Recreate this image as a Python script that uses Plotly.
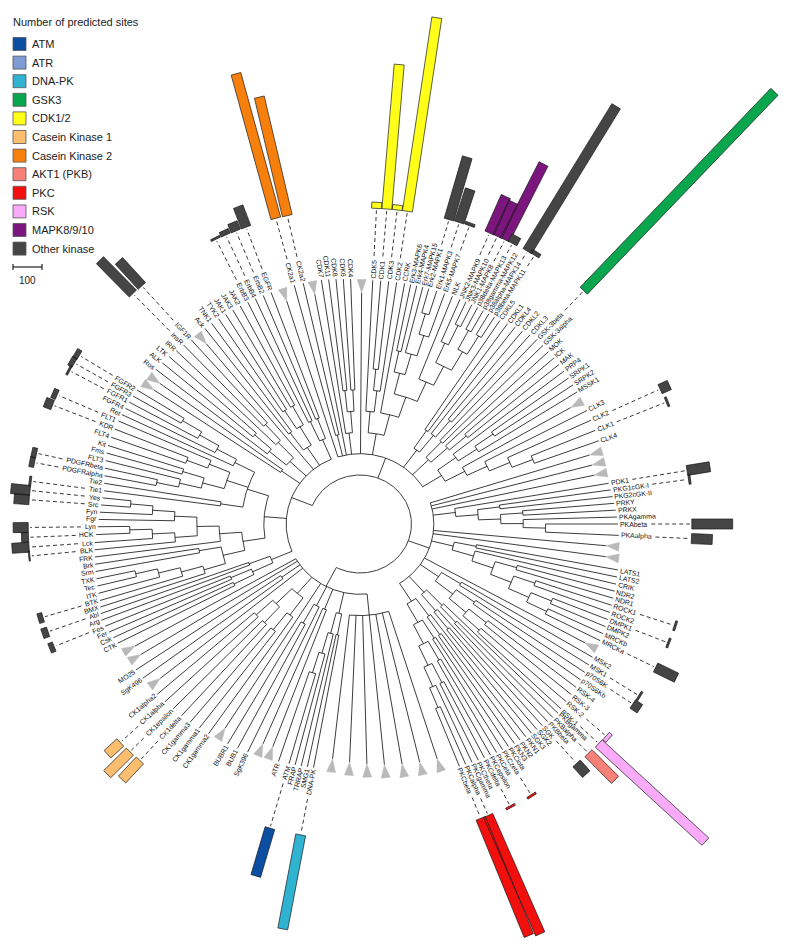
import math
import plotly.graph_objects as go

# ---------------- data ----------------
# Kinase tree (nested lists, clockwise leaf order). "^" = collapsed clade (grey triangle)
TK = [
    [[["CTK", "Csk"], ["Fer", "Fes"]], ["Arg", "Abl"]],
    [
        [[["BMX", ["BTK", ["ITK", ["Tec", "TXK"]]]], ["Srm", "Brk"]],
         ["FRK", [["BLK", ["Lck", ["HCK", "Lyn"]]], ["Fgr", ["Fyn", ["Src", "Yes"]]]]]],
        [["Tie1", "Tie2"],
         [[[["PDGFRalpha", "PDGFRbeta"], "FLT3"], ["Fms", "Kit"]], [["FLT4", "KDR"], "FLT1"]],
         ["Ret", ["FGFR4", ["FGFR1", ["FGFR3", "FGFR2"]]]]],
    ],
    ["^", "^"],
    [["Ros", ["ALK", "LTK"]], ["IRR", ["InsR", "IGF1R"]]],
    "^",
    [["Ack", "TNK1"], [["TYK2", "JAK1"], ["JAK3", "JAK2"]]],
    [["ErbB3", "ErbB4"], ["ErbB2", "EGFR"]],
]
CMGC = [
    "^", ["CK2a1", "CK2a2"], "^",
    ["CDK7", [["CDK11", "CDK8"], ["CDK6", "CDK4"]]],
    "^",
    [["CDK5", [["CDK1", "CDK3"], "CDK2"]],
     ["CCRK", [[["Erk3-MAPK6", "Erk4-MAPK4"], ["Erk7-MAPK15", [["Erk2-MAPK1", "Erk1-MAPK3"], "Erk5-MAPK7"]]],
               ["NLK", [["JNK2-MAPK9", ["JNK3-MAPK10", "JNK1-MAPK8"]],
                        [["p38delta-MAPK13", "p38gamma-MAPK12"], ["p38alpha-MAPK14", "p38beta-MAPK11"]]]]]]],
    [["CDKL5", "CDKL1"], ["CDKL4", ["CDKL2", "CDKL3"]]],
    [["GSK-3beta", "GSK-3alpha"], ["MOK", ["ICK", "MAK"]]],
    [["PRP4", [["SRPK1", "SRPK2"], "MSSK1"]], ["^", ["CLK3", ["CLK2", ["CLK1", "CLK4"]]]]],
]
AGC = [
    "^", "^", "^",
    ["PDK1", [["PKG1cGK-I", "PKG2cGK-II"], [["PRKY", "PRKX"], ["PKAgamma", ["PKAbeta", "PKAalpha"]]]]],
    "^", "^",
    [["LATS1", "LATS2"], ["CRIK", [["NDR2", "NDR1"], [["ROCK1", "ROCK2"], [["DMPK1", "DMPK2"], ["MRCKb", "MRCKa"]]]]]],
    "^",
    [["MSK2", "MSK1"], [["p70S6K", "p70S6Kb"], [["RSK-4", "RSK-3"], ["RSK-2", "RSK-1"]]]],
    [["PKBgamma", ["PKBalpha", "PKBbeta"]], ["SGK", ["SGK2", "SGK3"]]],
    [["PKN1", ["PKN2", "PKN3"]],
     [["PKCiota", "PKCzeta"], [["PKCeta", "PKCepsilon"], [["PKCdelta", "PKCtheta"], ["PKCgamma", ["PKCalpha", "PKCbeta"]]]]]],
]
OTHER = [
    ["^", "^", "^", "^", "^", "^", "^"],
    [["DNA-PK", "SMG1"], ["TRRAP", ["FRAP", ["ATM", "ATR"]]]],
    ["^", "^"],
    ["SgK396", ["BUB1", "BUBR1"]],
    "^",
    [["CK1gamma2", ["CK1gamma1", "CK1gamma3"]], [["CK1delta", "CK1epsilon"], ["CK1alpha", "CK1alpha2"]]],
    "^",
    ["SgK496", "MO25"],
    "^", "^",
]
TREE = [TK, CMGC, AGC, OTHER]

BAR_KINASES = ["InsR", "IGF1R", "ErbB3", "ErbB4", "ErbB2", "EGFR", "CK2a1", "CK2a2",
               "CDK5", "CDK1", "CDK3", "CDK2", "Erk2-MAPK1", "Erk1-MAPK3", "Erk5-MAPK7",
               "JNK2-MAPK9", "JNK3-MAPK10", "JNK1-MAPK8", "p38delta-MAPK13", "p38alpha-MAPK14",
               "p38beta-MAPK11", "GSK-3beta", "CLK2", "CLK1", "PDK1", "PKG1cGK-I", "PKAbeta",
               "PKAalpha", "ROCK1", "DMPK1", "MRCKa", "MSK1", "p70S6K", "RSK-2", "RSK-1",
               "PKBalpha", "SGK", "PKCdelta", "PKCzeta", "PKCalpha", "PKCbeta",
               "DNA-PK", "ATM", "CK1delta", "CK1epsilon", "CK1alpha",
               "FGFR2", "FGFR3", "FGFR1", "FLT1", "KDR", "PDGFRbeta", "PDGFRalpha",
               "Tie1", "Yes", "Src", "Lyn", "HCK", "Lck", "BLK", "BTK", "Abl", "Fes"]
BAR_SITES = [162, 117, 7, 17, 31, 76, 517, 420,
             21, 500, 17, 675, 224, 120, 10,
             138, 130, 293, 28, 586,
             14, 950, 35, 7, 80, 7, 141,
             72, 7, 7, 80, 7, 30, 14, 500,
             130, 50, 7, 7, 446, 437,
             330, 172, 90, 110, 60,
             17, 17, 7, 17, 28, 17, 17,
             7, 66, 52, 52, 24, 59, 4, 17, 21, 17]
BAR_GROUPS = ["Other kinase"] * 6 + ["Casein Kinase 2"] * 2 + ["CDK1/2"] * 4 + ["Other kinase"] * 3 + \
             ["MAPK8/9/10"] * 3 + ["Other kinase"] * 3 + ["GSK3"] + ["Other kinase"] * 11 + \
             ["RSK", "RSK", "AKT1 (PKB)", "Other kinase", "PKC", "PKC", "PKC", "PKC",
              "DNA-PK", "ATM", "Casein Kinase 1", "Casein Kinase 1", "Casein Kinase 1"] + \
             ["Other kinase"] * 17

LEGEND_LABELS = ["ATM", "ATR", "DNA-PK", "GSK3", "CDK1/2", "Casein Kinase 1", "Casein Kinase 2",
                 "AKT1 (PKB)", "PKC", "RSK", "MAPK8/9/10", "Other kinase"]
LEGEND_COLORS = ["#0b4ea2", "#7f9bd3", "#2fb3d1", "#0aa64e", "#ffff1a", "#fbbd6e", "#f7800c",
                 "#f98078", "#f2100f", "#f9aaf9", "#7c167f", "#454545"]
LEGEND_TITLE = "Number of predicted sites"
SCALE_SITES = 100

# ---------------- layout (page pixel coordinates) ----------------
PAGE_OFF = 8                      # default body margin of the html page
W, H = 788, 952
CX, CY = 360, 524
SX = 1.05                         # horizontal stretch of the circular layout
R_ROOT = 49
R_BAR = 316
PX_PER_SITE = 29 / 100
BAR_W = 10
FS = 6.9
TRI_LEN, TRI_W = 13, 9
COLOR = dict(zip(LEGEND_LABELS, LEGEND_COLORS))
# angular anchors of some leaves as seen on the page (deg, clockwise from +x, y down)
ANG_ANCHORS = [("CTK", 153.8), ("Arg", 159.6), ("BTK", 163.6), ("Lck", 176), ("Lyn", 179.4),
               ("Tie1", 187.4), ("Kit", 197.3), ("FLT1", 203.1), ("FGFR2", 211), ("IGF1R", 227.5),
               ("Ack", 231.6), ("EGFR", 249), ("CK2a1", 254.6), ("CDK7", 261), ("CDK4", 267.8),
               ("CDK5", 273), ("CCRK", 280.5), ("Erk2-MAPK1", 286.3), ("JNK2-MAPK9", 294),
               ("CDKL5", 304.5), ("GSK-3beta", 313.8), ("MSSK1", 328.7), ("CLK2", 335.8),
               ("PDK1", 350.7), ("PRKX", 356.9), ("PKAbeta", 0), ("LATS1", 10.1), ("ROCK1", 17.9),
               ("MRCKa", 25.9), ("MSK2", 29.8), ("RSK-1", 42.6), ("PKBgamma", 43.7),
               ("PKCbeta", 67.7), ("DNA-PK", 100.8), ("ATM", 106.5)]
# leaf tip distances from the centre as seen on the page (phylogram branch lengths)
TIP_ANCHORS = [("CTK", 270), ("Arg", 276), ("BTK", 271), ("Lck", 266), ("Lyn", 262), ("Tie1", 258),
               ("Kit", 264), ("FGFR2", 260), ("IGF1R", 250), ("EGFR", 248), ("CDK7", 247),
               ("CDK5", 244), ("CDKL5", 247), ("GSK-3beta", 256), ("PDK1", 252), ("PKAalpha", 259),
               ("LATS1", 262), ("MSK2", 268), ("RSK-1", 273), ("PKBgamma", 274), ("PKCbeta", 262),
               ("DNA-PK", 248), ("ATM", 250), ("CK1delta", 262)]

CW = {}
for c in "abdeghnopqu0123456789":
    CW[c] = 556
for c in "ckvsxyz":
    CW[c] = 500
CW.update({"f": 278, "t": 278, "i": 222, "j": 222, "l": 222, "r": 333, "m": 833, "w": 722,
           "I": 278, "J": 500, "L": 556, "M": 833, "W": 944, "-": 333, " ": 278, "(": 333,
           ")": 333, "/": 278})
for c in "ABEKPSVXY":
    CW[c] = 667
for c in "CDHNRU":
    CW[c] = 722
for c in "FTZ":
    CW[c] = 611
for c in "GOQ":
    CW[c] = 778


def text_w(s, fs):
    return sum(CW.get(c, 556) for c in s) / 1000.0 * fs


def pt(r, a):
    t = math.radians(a)
    return CX + SX * r * math.cos(t), CY + r * math.sin(t)


def unit(a):
    t = math.radians(a)
    ux, uy = SX * math.cos(t), math.sin(t)
    s = math.hypot(ux, uy)
    return ux / s, uy / s, s


def from_page_angle(ap):
    t = math.radians(ap)
    return math.degrees(math.atan2(SX * math.sin(t), math.cos(t)))


leaves = []


def collect(node):
    if isinstance(node, str):
        leaves.append(node)
        return
    for c in node:
        collect(c)


collect(TREE)
N = len(leaves)


def interp_cyclic(pairs, unwrap):
    idx = sorted((leaves.index(n), v) for n, v in pairs)
    if unwrap:
        out = [(idx[0][0], idx[0][1] % 360)]
        for i, v in idx[1:]:
            v = v % 360
            while v <= out[-1][1]:
                v += 360
            out.append((i, v))
        idx = out
        closing = (idx[0][0] + N, idx[0][1] + 360)
    else:
        closing = (idx[0][0] + N, idx[0][1])
    ext = idx + [closing]
    vals = [0.0] * N
    for k in range(len(ext) - 1):
        i0, v0 = ext[k]
        i1, v1 = ext[k + 1]
        for i in range(i0, i1):
            vals[i % N] = v0 + (v1 - v0) * (i - i0) / (i1 - i0)
    return vals


ANG = interp_cyclic([(n, from_page_angle(a)) for n, a in ANG_ANCHORS], True)
TIP_PAGE = interp_cyclic(TIP_ANCHORS, False)
TIP = [TIP_PAGE[i] / unit(ANG[i])[2] for i in range(N)]


def depth_max(node, d=0):
    if isinstance(node, str):
        return d - 1
    return max(depth_max(c, d + 1) for c in node)


MAXD = depth_max(TREE)
DSTEP = (min(TIP) - TRI_LEN - 8 - R_ROOT) / MAXD

lx, ly = [], []
counter = [0]


def seg(r1, r2, a):
    x1, y1 = pt(r1, a)
    x2, y2 = pt(r2, a)
    lx.extend([x1, x2, None])
    ly.extend([y1, y2, None])


def arc(r, a1, a2):
    n = max(2, int(abs(a2 - a1) / 1.0) + 2)
    for k in range(n):
        a = a1 + (a2 - a1) * k / (n - 1)
        x, y = pt(r, a)
        lx.append(x)
        ly.append(y)
    lx.append(None)
    ly.append(None)


def layout(node, depth=0):
    if isinstance(node, str):
        i = counter[0]
        counter[0] += 1
        if node == "^":
            return ANG[i], TIP[i] - TRI_LEN / unit(ANG[i])[2]
        return ANG[i], TIP[i]
    kids = [layout(c, depth + 1) for c in node]
    r = R_ROOT + depth * DSTEP
    r = min(r, min(k[1] for k in kids) - 8)
    arc(r, kids[0][0], kids[-1][0])
    for a, rc in kids:
        seg(r, rc, a)
    return (kids[0][0] + kids[-1][0]) / 2, r


layout(TREE)

fig = go.Figure()
fig.add_trace(go.Scatter(x=lx, y=ly, mode="lines", line=dict(color="#1a1a1a", width=0.85),
                         hoverinfo="skip", showlegend=False))

tx, ty = [], []
for i, name in enumerate(leaves):
    if name != "^":
        continue
    ux, uy, s = unit(ANG[i])
    bx, by = pt(TIP[i], ANG[i])
    x0, y0 = bx - ux * TRI_LEN, by - uy * TRI_LEN
    px, py = -uy * TRI_W / 2, ux * TRI_W / 2
    tx.extend([x0, bx + px, bx - px, x0, None])
    ty.extend([y0, by + py, by - py, y0, None])
fig.add_trace(go.Scatter(x=tx, y=ty, mode="lines", fill="toself", fillcolor="#b9b9b9",
                         line=dict(color="#b9b9b9", width=0.5), hoverinfo="skip", showlegend=False))

annotations = []
label_end = {}
for i, name in enumerate(leaves):
    if name == "^":
        continue
    a = ANG[i]
    ux, uy, s = unit(a)
    w = text_w(name, FS)
    tx0, ty0 = pt(TIP[i], a)
    cx_, cy_ = tx0 + ux * (2 + w / 2), ty0 + uy * (2 + w / 2)
    ap = math.degrees(math.atan2(uy, ux))
    ta = ap if -90 < ap <= 90 else (ap - 180 if ap > 90 else ap + 180)
    annotations.append(dict(x=cx_, y=cy_, xref="x", yref="y", text=name, showarrow=False,
                            textangle=ta, xanchor="center", yanchor="middle",
                            font=dict(size=FS, color="#111111", family="Liberation Sans, Arial")))
    label_end[name] = (tx0 + ux * (w + 6), ty0 + uy * (w + 6))

dx_, dy_ = [], []
bars_by_group = {}
for name, val, grp in zip(BAR_KINASES, BAR_SITES, BAR_GROUPS):
    i = leaves.index(name)
    a = ANG[i]
    ux, uy, s = unit(a)
    x1, y1 = label_end[name]
    bx0, by0 = pt(R_BAR, a)
    dx_.extend([x1, bx0 - 2 * ux, None])
    dy_.extend([y1, by0 - 2 * uy, None])
    L = max(val * PX_PER_SITE, 1.2)
    bx1, by1 = bx0 + ux * L, by0 + uy * L
    px, py = -uy * BAR_W / 2, ux * BAR_W / 2
    xs, ys = bars_by_group.setdefault(grp, ([], []))
    xs.extend([bx0 + px, bx1 + px, bx1 - px, bx0 - px, bx0 + px, None])
    ys.extend([by0 + py, by1 + py, by1 - py, by0 - py, by0 + py, None])

fig.add_trace(go.Scatter(x=dx_, y=dy_, mode="lines", line=dict(color="#222222", width=0.9, dash="4px,3px"),
                         hoverinfo="skip", showlegend=False))
for grp in LEGEND_LABELS:
    if grp not in bars_by_group:
        continue
    xs, ys = bars_by_group[grp]
    fig.add_trace(go.Scatter(x=xs, y=ys, mode="lines", fill="toself", fillcolor=COLOR[grp],
                             line=dict(color="#1a1a1a", width=0.7), hoverinfo="skip", showlegend=False))

# legend
LX, LY0, LDY, BOX = 13, 44, 18.6, 13
annotations.append(dict(x=LX - 2, y=22, xref="x", yref="y", text=LEGEND_TITLE, showarrow=False,
                        xanchor="left", yanchor="middle",
                        font=dict(size=11, color="#222222", family="Liberation Sans, Arial")))
shapes = []
for k, (lab, col) in enumerate(zip(LEGEND_LABELS, LEGEND_COLORS)):
    yc = LY0 + k * LDY
    shapes.append(dict(type="rect", xref="x", yref="y", x0=LX, x1=LX + BOX, y0=yc - BOX / 2, y1=yc + BOX / 2,
                       fillcolor=col, line=dict(color="#555555", width=0.8)))
    annotations.append(dict(x=LX + BOX + 4, y=yc, xref="x", yref="y", text=lab, showarrow=False,
                            xanchor="left", yanchor="middle",
                            font=dict(size=11, color="#222222", family="Liberation Sans, Arial")))
sb_len = SCALE_SITES * PX_PER_SITE
sy = 267
fig.add_trace(go.Scatter(x=[LX, LX + sb_len, None, LX, LX, None, LX + sb_len, LX + sb_len],
                         y=[sy, sy, None, sy - 3, sy + 3, None, sy - 3, sy + 3], mode="lines",
                         line=dict(color="#222222", width=1.2), hoverinfo="skip", showlegend=False))
annotations.append(dict(x=LX + sb_len / 2, y=280, xref="x", yref="y", text=str(SCALE_SITES), showarrow=False,
                        xanchor="center", yanchor="middle",
                        font=dict(size=10, color="#222222", family="Liberation Sans, Arial")))

fig.update_layout(width=W - PAGE_OFF, height=H - PAGE_OFF, margin=dict(l=0, r=0, t=0, b=0), autosize=False,
                  paper_bgcolor="white", plot_bgcolor="white", showlegend=False,
                  xaxis=dict(range=[PAGE_OFF, W], visible=False, fixedrange=True),
                  yaxis=dict(range=[H, PAGE_OFF], visible=False, fixedrange=True),
                  annotations=annotations, shapes=shapes)
fig.write_html("out.html")
